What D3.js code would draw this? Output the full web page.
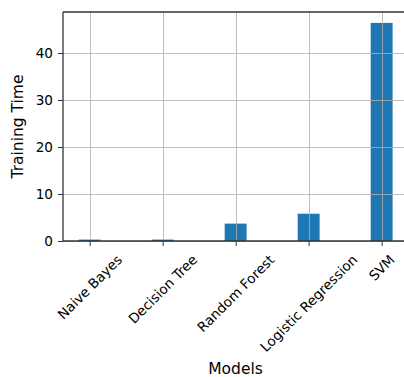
<!DOCTYPE html>
<html><head><meta charset="utf-8">
<script src="https://cdn.jsdelivr.net/npm/d3@7"></script>
<style>body{margin:0;background:#fff}svg{display:block}text{font-family:"DejaVu Sans",sans-serif;fill:#000}</style>
</head><body>
<script>
const models = ["Naive Bayes","Decision Tree","Random Forest","Logistic Regression","SVM"];
const trainingTime = [0.3, 0.3, 3.7, 5.8, 46.4];
const yTicks = [0, 10, 20, 30, 40];

(function(){
const W = 404, H = 377;
const mLeft = 63, mTop = 12, mBottom = 241;
const fs = 13.6;
const svg = d3.select("body").append("svg").attr("width", W).attr("height", H);

const x = d3.scaleLinear().domain([-0.365, 4.365]).range([mLeft, mLeft + 4.73 * 73]);
const y = d3.scaleLinear().domain([0, 46.4 * 1.05]).range([mBottom, mTop]);
const barW = 0.3;

svg.selectAll("rect.bar").data(models).enter().append("rect")
  .attr("x", (d, i) => x(i - barW / 2))
  .attr("width", x(barW) - x(0))
  .attr("y", (d, i) => y(trainingTime[i]))
  .attr("height", (d, i) => y(0) - y(trainingTime[i]))
  .attr("fill", "#1f77b4");

const grid = svg.append("g").attr("stroke", "#b0b0b0").attr("stroke-width", 1).attr("opacity", 0.8);
yTicks.forEach(t => grid.append("line").attr("x1", mLeft).attr("x2", W).attr("y1", Math.round(y(t)) + 0.5).attr("y2", Math.round(y(t)) + 0.5));
models.forEach((m, i) => grid.append("line").attr("x1", Math.round(x(i)) + 0.5).attr("x2", Math.round(x(i)) + 0.5).attr("y1", mTop).attr("y2", mBottom));

const yAxis = d3.axisLeft(y).tickValues(yTicks).tickSize(5).tickPadding(5);
const gy = svg.append("g").attr("transform", `translate(${mLeft},0)`).call(yAxis);
gy.select(".domain").remove();
gy.selectAll("text").style("font-size", fs + "px").style("font-family", "DejaVu Sans").attr("fill", "#000");
gy.selectAll("line").attr("stroke", "#333");

const xAxis = d3.axisBottom(x).tickValues(d3.range(models.length)).tickSize(5).tickFormat("");
const gx = svg.append("g").attr("transform", `translate(0,${mBottom})`).call(xAxis);
gx.select(".domain").remove();
gx.selectAll("line").attr("stroke", "#333");

models.forEach((m, i) => {
  const t = svg.append("text").text(m).style("font-size", fs + "px")
    .attr("text-anchor", "middle").attr("dominant-baseline", "central");
  const w = t.node().getComputedTextLength();
  const h = fs * 0.85;
  const bh = (w + h) * Math.SQRT1_2;
  t.attr("transform", `translate(${x(i)},${253 + bh / 2}) rotate(-45)`);
});

const sp = svg.append("g").attr("stroke", "#333").attr("stroke-width", 1.3).attr("fill", "none");
sp.append("line").attr("x1", mLeft).attr("x2", mLeft).attr("y1", mTop).attr("y2", mBottom);
sp.append("line").attr("x1", mLeft).attr("x2", W).attr("y1", mBottom).attr("y2", mBottom);
sp.append("line").attr("x1", mLeft).attr("x2", W).attr("y1", mTop).attr("y2", mTop);

svg.append("text").text("Models").attr("x", (mLeft + 408) / 2).attr("y", 374)
  .attr("text-anchor", "middle").style("font-size", "15.5px");
svg.append("text").text("Training Time").attr("transform", `translate(23,${(mTop + mBottom) / 2}) rotate(-90)`)
  .attr("text-anchor", "middle").style("font-size", "15.5px");
})();
</script>
</body></html>
